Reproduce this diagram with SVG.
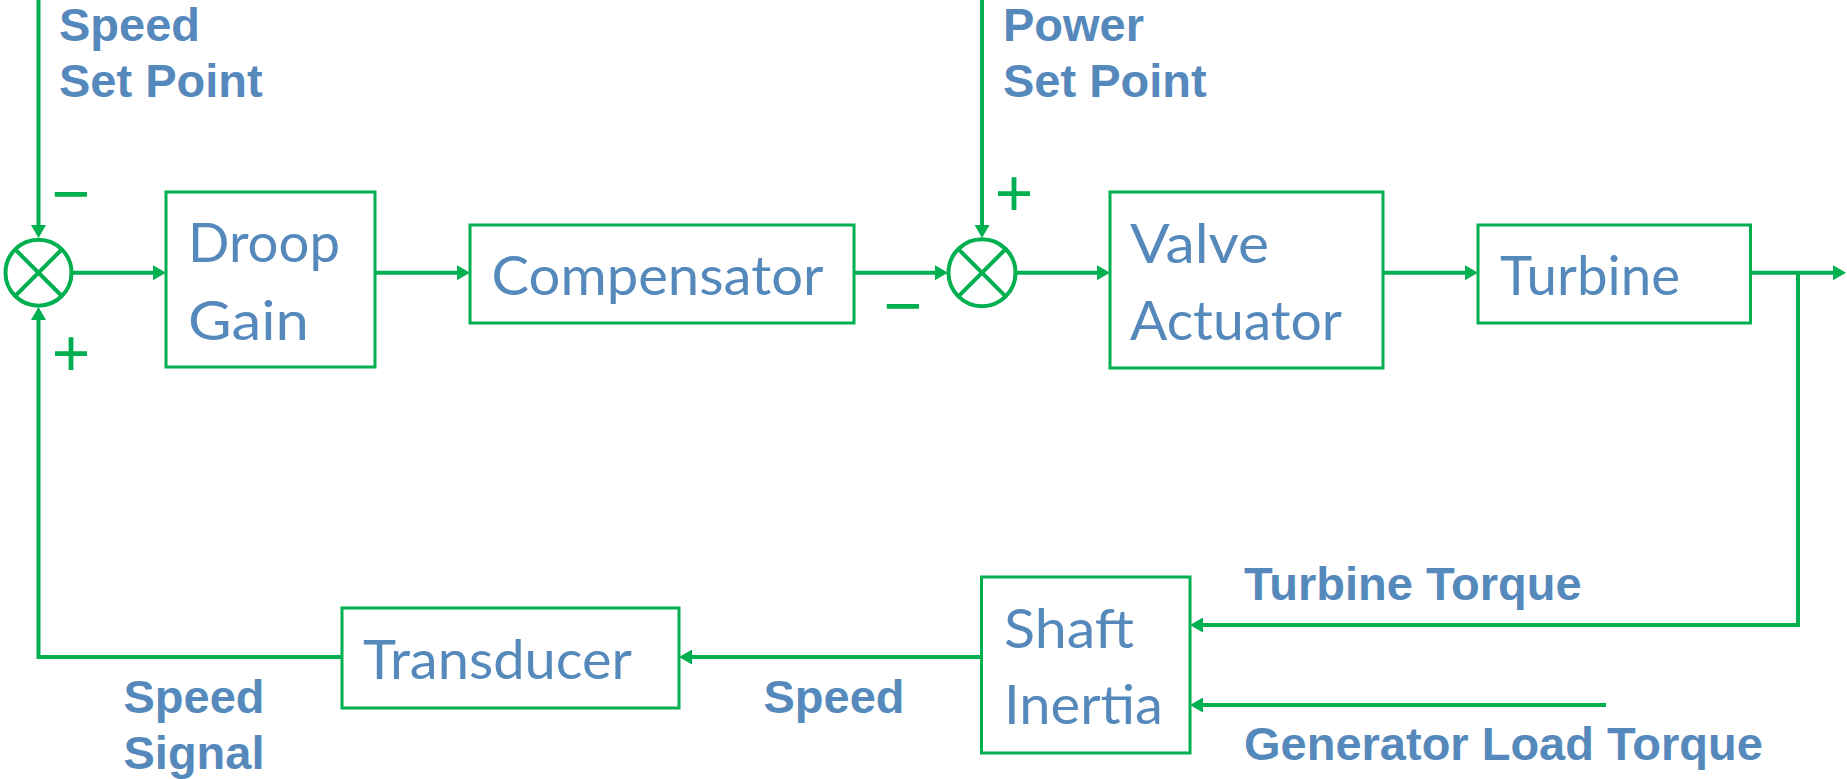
<svg xmlns="http://www.w3.org/2000/svg" width="1847" height="779" viewBox="0 0 1847 779">
<style>
.box{fill:#fff;stroke:#00B050;stroke-width:3}
.sum{fill:#fff;stroke:#00B050;stroke-width:4}
.x{stroke:#00B050;stroke-width:4}
.wire{fill:none;stroke:#00B050;stroke-width:4}
.bt{font-family:Lato,"Liberation Sans",sans-serif;font-size:54px;fill:#5589BB}
.lb{font-family:"Liberation Sans",Arial,sans-serif;font-weight:bold;font-size:47px;fill:#5589BB}
.sg{font-family:"Liberation Sans",Arial,sans-serif;font-size:66px;fill:#00B050;text-anchor:middle}
</style>
<defs>
<marker id="ah" markerUnits="userSpaceOnUse" viewBox="0 0 13 15" refX="9" refY="7.5" markerWidth="13" markerHeight="15" orient="auto">
<path d="M0,0 L13,7.5 L0,15 z" fill="#00B050"/>
</marker>
</defs>
<g id="connectors">
<path class="wire" marker-end="url(#ah)" d="M38.5,0 V234"/>
<path class="wire" marker-end="url(#ah)" d="M72,272.7 H162"/>
<path class="wire" marker-end="url(#ah)" d="M375,272.7 H466"/>
<path class="wire" marker-end="url(#ah)" d="M854,272.7 H944"/>
<path class="wire" marker-end="url(#ah)" d="M982,0 V234"/>
<path class="wire" marker-end="url(#ah)" d="M1016,272.7 H1106"/>
<path class="wire" marker-end="url(#ah)" d="M1383,272.7 H1474"/>
<path class="wire" marker-end="url(#ah)" d="M1750,272.7 H1842"/>
<path class="wire" marker-end="url(#ah)" d="M1798,272.7 V625 H1194"/>
<path class="wire" marker-end="url(#ah)" d="M1606,705 H1194"/>
<path class="wire" marker-end="url(#ah)" d="M981,657 H683"/>
<path class="wire" marker-end="url(#ah)" d="M342,657 H38.5 V311"/>
</g>
<g id="sum1">
<circle class="sum" cx="38.5" cy="272.7" r="33"/>
<line class="x" x1="15.2" y1="249.4" x2="61.8" y2="296"/>
<line class="x" x1="61.8" y1="249.4" x2="15.2" y2="296"/>
</g>
<g id="sum2">
<circle class="sum" cx="982" cy="272.7" r="33.5"/>
<line class="x" x1="958.4" y1="249.1" x2="1005.6" y2="296.3"/>
<line class="x" x1="1005.6" y1="249.1" x2="958.4" y2="296.3"/>
</g>
<g id="signs">
<text class="sg" x="71" y="216">−</text>
<text class="sg" x="71" y="376">+</text>
<text class="sg" x="1014" y="216">+</text>
<text class="sg" x="903" y="328">−</text>
</g>
<g id="droop">
<rect class="box" x="166" y="192" width="209" height="175"/>
<text class="bt" x="188" y="262" textLength="152" lengthAdjust="spacingAndGlyphs">Droop</text>
<text class="bt" x="188" y="340" textLength="121" lengthAdjust="spacingAndGlyphs">Gain</text>
</g>
<g id="compensator">
<rect class="box" x="470" y="225" width="384" height="98"/>
<text class="bt" x="491.5" y="295" textLength="332" lengthAdjust="spacingAndGlyphs">Compensator</text>
</g>
<g id="valve">
<rect class="box" x="1110" y="192" width="273" height="176"/>
<text class="bt" x="1130" y="263" textLength="139" lengthAdjust="spacingAndGlyphs">Valve</text>
<text class="bt" x="1130" y="340" textLength="212" lengthAdjust="spacingAndGlyphs">Actuator</text>
</g>
<g id="turbine">
<rect class="box" x="1478" y="225" width="272.5" height="98"/>
<text class="bt" x="1500" y="295" textLength="180" lengthAdjust="spacingAndGlyphs">Turbine</text>
</g>
<g id="shaft">
<rect class="box" x="981.5" y="577" width="208.5" height="176"/>
<text class="bt" x="1004" y="648" textLength="130" lengthAdjust="spacingAndGlyphs">Shaft</text>
<text class="bt" x="1004" y="724" textLength="159" lengthAdjust="spacingAndGlyphs">Inertia</text>
</g>
<g id="transducer">
<rect class="box" x="342" y="608" width="337" height="100"/>
<text class="bt" x="363" y="679" textLength="269" lengthAdjust="spacingAndGlyphs">Transducer</text>
</g>
<g id="labels">
<text class="lb" x="59" y="41">Speed</text>
<text class="lb" x="59" y="97">Set Point</text>
<text class="lb" x="1003" y="41">Power</text>
<text class="lb" x="1003" y="97">Set Point</text>
<text class="lb" x="1244" y="600">Turbine Torque</text>
<text class="lb" x="1244" y="760">Generator Load Torque</text>
<text class="lb" x="763.5" y="713">Speed</text>
<text class="lb" x="123.5" y="713">Speed</text>
<text class="lb" x="123.5" y="769">Signal</text>
</g>
</svg>
